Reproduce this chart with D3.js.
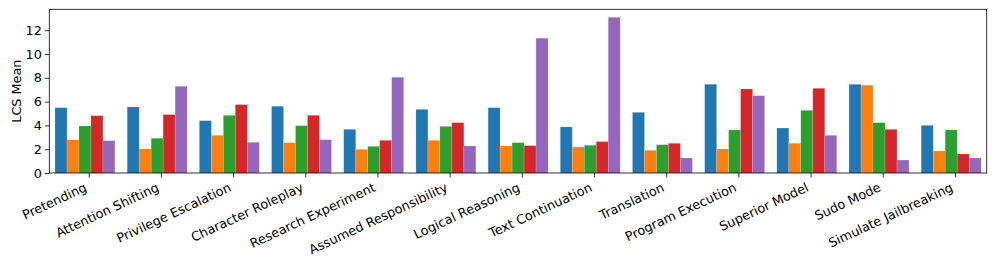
<!DOCTYPE html>
<html>
<head>
<meta charset="utf-8">
<script src="https://cdn.jsdelivr.net/npm/d3@7"></script>
<style>
  body { margin: 0; background: #fff; }
  svg { display: block; }
  text { font-family: "DejaVu Sans", sans-serif; }
  .tick text { font-size: 12.8px; fill: #000; font-family: "DejaVu Sans", sans-serif; }
</style>
</head>
<body>
<svg id="chart"></svg>
<script>
// categories (x axis)
const categories = [
  'Pretending', 'Attention Shifting', 'Privilege Escalation', 'Character Roleplay',
  'Research Experiment', 'Assumed Responsibility', 'Logical Reasoning', 'Text Continuation',
  'Translation', 'Program Execution', 'Superior Model', 'Sudo Mode', 'Simulate Jailbreaking',
];

// LCS mean per series (one value per category)
const series1 = [5.49, 5.55, 4.40, 5.61, 3.67, 5.35, 5.49, 3.87, 5.10, 7.46, 3.78, 7.46, 4.01];
const series2 = [2.78, 2.02, 3.17, 2.55, 1.99, 2.75, 2.27, 2.19, 1.91, 2.02, 2.50, 7.38, 1.85];
const series3 = [3.95, 2.92, 4.85, 3.98, 2.24, 3.92, 2.55, 2.33, 2.38, 3.62, 5.27, 4.23, 3.62];
const series4 = [4.82, 4.91, 5.75, 4.85, 2.75, 4.23, 2.30, 2.64, 2.50, 7.06, 7.12, 3.67, 1.60];
const series5 = [2.72, 7.29, 2.58, 2.80, 8.05, 2.27, 11.33, 13.09, 1.26, 6.50, 3.17, 1.09, 1.26];

const yTicks = [0, 2, 4, 6, 8, 10, 12];
const yLabel = 'LCS Mean';

const allSeries = [series1, series2, series3, series4, series5];
const colors = ['#1f77b4', '#ff7f0e', '#2ca02c', '#d62728', '#9467bd'];

const width = 997;
const height = 266;
const margin = { top: 9.3, right: 10.3, bottom: 93, left: 49.3 };
const innerW = width - margin.left - margin.right;
const innerH = height - margin.top - margin.bottom;

// bar geometry, in category units
const barW = 0.166;
const groupStart = -0.467;

const svg = d3.select('#chart')
  .attr('width', width)
  .attr('height', height);

const chart = svg.append('g')
  .attr('transform', `translate(${margin.left},${margin.top})`);

const x = d3.scaleLinear()
  .domain([-0.546, categories.length - 1 + 0.44])
  .range([0, innerW]);

const y = d3.scaleLinear()
  .domain([0, 13.76])
  .range([innerH, 0]);

// flatten to one record per bar
const bars = [];
allSeries.forEach((s, k) => {
  s.forEach((v, i) => {
    bars.push({ i, k, v });
  });
});

chart.selectAll('rect.bar')
  .data(bars)
  .join('rect')
  .attr('class', 'bar')
  .attr('x', (d) => x(d.i + groupStart + d.k * barW))
  .attr('width', x(barW) - x(0))
  .attr('y', (d) => y(d.v))
  .attr('height', (d) => y(0) - y(d.v))
  .attr('fill', (d) => colors[d.k])
  .attr('stroke', '#fff')
  .attr('stroke-opacity', 0.3)
  .attr('stroke-width', 0.5);

// y axis
const yAxis = chart.append('g')
  .call(d3.axisLeft(y)
    .tickValues(yTicks)
    .tickSize(4.5)
    .tickPadding(3));
yAxis.attr('font-family', null).attr('font-size', null);
yAxis.select('.domain').remove();
yAxis.selectAll('.tick line').attr('stroke', '#000').attr('stroke-width', 0.8);

// x axis with rotated labels
const xAxis = chart.append('g')
  .attr('transform', `translate(0,${innerH})`)
  .call(d3.axisBottom(x)
    .tickValues(d3.range(categories.length))
    .tickFormat((i) => categories[i])
    .tickSize(4.5));
xAxis.attr('font-family', null).attr('font-size', null);
xAxis.select('.domain').remove();
xAxis.selectAll('.tick line').attr('stroke', '#000').attr('stroke-width', 0.8);
xAxis.selectAll('.tick text')
  .attr('x', 0)
  .attr('y', 0)
  .attr('dy', 0)
  .style('text-anchor', 'end')
  .attr('transform', 'translate(-1.5,17.5) rotate(-25)');

// frame
chart.append('rect')
  .attr('width', innerW)
  .attr('height', innerH)
  .attr('fill', 'none')
  .attr('stroke', '#000')
  .attr('stroke-width', 0.8);

svg.append('text')
  .attr('transform', `translate(20.5,${margin.top + innerH / 2}) rotate(-90)`)
  .attr('text-anchor', 'middle')
  .style('font-size', '12.8px')
  .text(yLabel);
</script>
</body>
</html>
